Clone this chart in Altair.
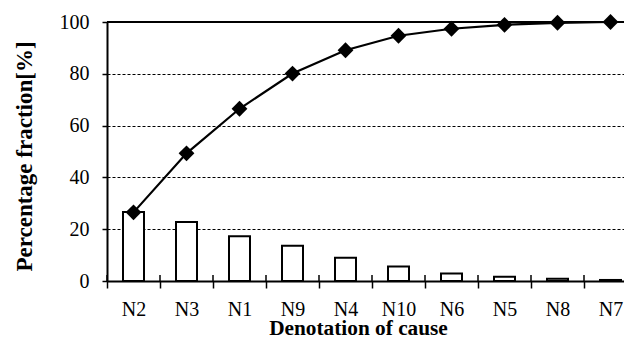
import altair as alt
import pandas as pd

causes = ["N2", "N3", "N1", "N9", "N4", "N10", "N6", "N5", "N8", "N7"]
fraction = [26.6, 22.8, 17.3, 13.6, 9.0, 5.6, 2.9, 1.6, 0.9, 0.4]
cumulative = [26.5, 49.3, 66.5, 80.1, 89.1, 94.7, 97.4, 98.9, 99.7, 100.0]
y_ticks = [0, 20, 40, 60, 80, 100]

df = pd.DataFrame({"cause": causes, "fraction": fraction, "cumulative": cumulative})

FONT = "Liberation Serif"

xscale = alt.Scale(domain=causes, range=[0, 530], paddingInner=0, paddingOuter=0)
yscale = alt.Scale(domain=[0, 100], nice=False)

x_axis = alt.Axis(
    title="Denotation of cause", tickBand="extent", grid=False,
    domainColor="black", domainWidth=2, tickColor="black", tickWidth=1.5, tickSize=7,
    labelFont=FONT, labelFontSize=20, labelColor="black", labelPadding=11, labelAngle=0,
    titleFont=FONT, titleFontSize=21.3, titleFontWeight="bold", titleColor="black",
    titleX=251, titleY=53, titleBaseline="alphabetic", titleAlign="center",
)
y_axis = alt.Axis(
    title="Percentage fraction[%]", values=y_ticks, grid=True,
    gridColor="black", gridDash=[3, 2], gridWidth=1, gridOpacity=1,
    domainColor="black", domainWidth=2, tickColor="black", tickWidth=1.5, tickSize=5,
    labelFont=FONT, labelFontSize=20, labelColor="black", labelPadding=13,
    titleFont=FONT, titleFontSize=23, titleFontWeight="bold", titleColor="black",
    titleX=-76, titleY=134, titleBaseline="alphabetic", titleAlign="center", titleAngle=270,
)

base = alt.Chart(df)

bars = base.mark_bar(size=21, fill="white", stroke="black", strokeWidth=2).encode(
    x=alt.X("cause:N", sort=causes, scale=xscale, axis=x_axis),
    y=alt.Y("fraction:Q", scale=yscale, axis=y_axis),
)

top_line = base.mark_rule(color="black", strokeWidth=1.2).encode(
    y=alt.datum(100, scale=yscale)
)

up_ticks = base.mark_rule(color="black", strokeWidth=1.5).encode(
    x=alt.X("cause:N", sort=causes, scale=xscale, bandPosition=0),
    y=alt.datum(0),
    y2=alt.datum(2.3),
)

line = base.mark_line(color="black", strokeWidth=2.2).encode(
    x=alt.X("cause:N", sort=causes, scale=xscale),
    y=alt.Y("cumulative:Q", scale=yscale),
)
points = base.mark_point(shape="diamond", filled=True, color="black", size=250, opacity=1).encode(
    x=alt.X("cause:N", sort=causes, scale=xscale),
    y=alt.Y("cumulative:Q", scale=yscale),
)

chart = alt.layer(bars, top_line, up_ticks, line, points).properties(
    width=517, height=259,
    autosize=alt.AutoSizeParams(type="none"),
    padding={"left": 99, "top": 14, "right": 0, "bottom": 54},
).configure_view(stroke=None)

chart.save("out.html", embed_options={"renderer": "svg", "actions": False})
